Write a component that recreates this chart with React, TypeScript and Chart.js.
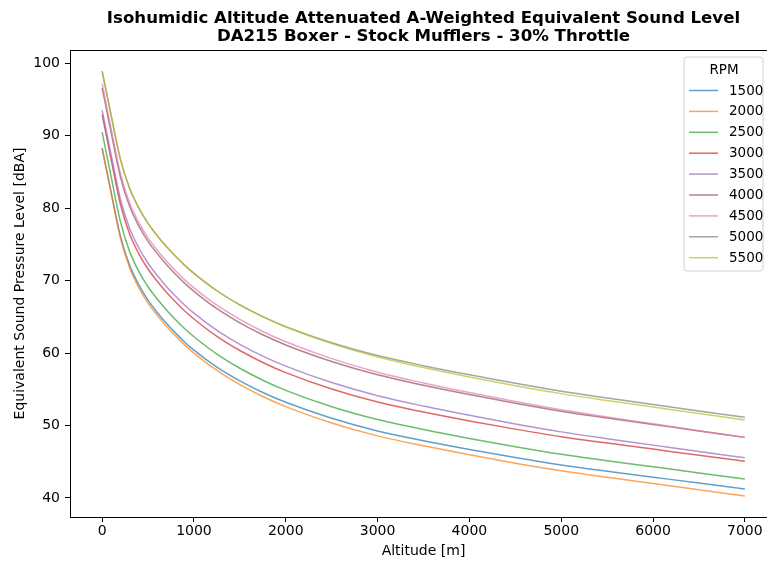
import React, { useEffect, useRef } from "react";
import { Chart, registerables } from "chart.js";

Chart.register(...registerables);

const ALTITUDE = [0, 100, 200, 300, 400, 500, 600, 700, 800, 900, 1000, 1250, 1500, 1750, 2000, 2500, 3000, 3500, 4000, 4500, 5000, 5500, 6000, 6500, 7000];

const SPL_1500 = [88.3, 82.1, 76.1, 72.1, 69.4, 67.3, 65.6, 64.1, 62.75, 61.5, 60.4, 58.05, 56.15, 54.55, 53.2, 51.0, 49.25, 47.9, 46.7, 45.58, 44.56, 43.69, 42.87, 42.05, 41.25];
const SPL_2000 = [88.2, 81.9, 75.8, 71.75, 69.0, 66.9, 65.2, 63.7, 62.35, 61.1, 60.0, 57.6, 55.65, 54.0, 52.6, 50.35, 48.57, 47.2, 45.95, 44.8, 43.75, 42.85, 41.98, 41.12, 40.28];
const SPL_2500 = [90.5, 84.2, 78.1, 74.0, 71.25, 69.15, 67.45, 65.95, 64.6, 63.35, 62.25, 59.85, 57.9, 56.25, 54.85, 52.6, 50.83, 49.45, 48.22, 47.08, 46.03, 45.14, 44.3, 43.45, 42.63];
const SPL_3000 = [92.9, 86.6, 80.5, 76.4, 73.7, 71.6, 69.9, 68.4, 67.05, 65.8, 64.7, 62.3, 60.35, 58.7, 57.3, 55.03, 53.23, 51.85, 50.62, 49.5, 48.46, 47.58, 46.74, 45.9, 45.08];
const SPL_3500 = [93.5, 87.25, 81.2, 77.2, 74.5, 72.4, 70.7, 69.2, 67.85, 66.6, 65.5, 63.13, 61.21, 59.58, 58.2, 55.93, 54.11, 52.68, 51.4, 50.21, 49.12, 48.18, 47.29, 46.4, 45.54];
const SPL_4000 = [96.6, 90.32, 84.25, 80.22, 77.52, 75.42, 73.72, 72.22, 70.87, 69.62, 68.52, 66.12, 64.17, 62.52, 61.12, 58.84, 57.0, 55.56, 54.27, 53.08, 51.98, 51.03, 50.14, 49.24, 48.36];
const SPL_4500 = [97.2, 90.85, 84.75, 80.7, 78.0, 75.9, 74.2, 72.7, 71.35, 70.1, 69.0, 66.6, 64.65, 62.98, 61.56, 59.23, 57.35, 55.87, 54.54, 53.3, 52.17, 51.18, 50.24, 49.29, 48.36];
const SPL_5000 = [98.9, 92.7, 86.7, 82.7, 80.0, 77.9, 76.2, 74.7, 73.35, 72.1, 71.0, 68.6, 66.65, 65.02, 63.65, 61.42, 59.65, 58.26, 57.0, 55.82, 54.74, 53.8, 52.9, 52.01, 51.13];
const SPL_5500 = [98.9, 92.7, 86.7, 82.7, 80.0, 77.9, 76.2, 74.7, 73.35, 72.1, 71.0, 68.6, 66.65, 65.0, 63.6, 61.3, 59.45, 58.0, 56.7, 55.5, 54.4, 53.45, 52.55, 51.65, 50.77];

const RPM_LABELS = ["1500", "2000", "2500", "3000", "3500", "4000", "4500", "5000", "5500"];
const SERIES = [SPL_1500, SPL_2000, SPL_2500, SPL_3000, SPL_3500, SPL_4000, SPL_4500, SPL_5000, SPL_5500];
const COLORS = [
  "rgba(31,119,180,0.7)",
  "rgba(255,127,14,0.7)",
  "rgba(44,160,44,0.7)",
  "rgba(214,39,40,0.7)",
  "rgba(148,103,189,0.7)",
  "rgba(140,86,75,0.7)",
  "rgba(227,119,194,0.7)",
  "rgba(127,127,127,0.7)",
  "rgba(188,189,34,0.7)",
];

const X_TICKS = [0, 1000, 2000, 3000, 4000, 5000, 6000, 7000];
const Y_TICKS = [40, 50, 60, 70, 80, 90, 100];

const TITLE_LINES = [
  "Isohumidic Altitude Attenuated A-Weighted Equivalent Sound Level",
  "DA215 Boxer - Stock Mufflers - 30% Throttle",
];
const X_LABEL = "Altitude [m]";
const Y_LABEL = "Equivalent Sound Pressure Level [dBA]";
const LEGEND_TITLE = "RPM";

const FONT = "'DejaVu Sans', sans-serif";

const framePlugin = {
  id: "frameAndExtras",
  afterDraw(chart: any) {
    const { ctx, chartArea } = chart;
    const { left, top, right, bottom } = chartArea;
    ctx.save();
    ctx.strokeStyle = "#000";
    ctx.lineWidth = 1;
    ctx.strokeRect(left + 0.5, top + 0.5, right - left, bottom - top);

    const cx = (left + right) / 2;
    ctx.fillStyle = "#000";
    ctx.font = `bold 16.6px ${FONT}`;
    ctx.textAlign = "center";
    ctx.textBaseline = "middle";
    ctx.fillText(TITLE_LINES[0], cx, 19);
    ctx.fillText(TITLE_LINES[1], cx, 37);

    const lx = 684, ly = 57, lw = 79, lh = 214;
    const r = 3;
    ctx.beginPath();
    ctx.moveTo(lx + r, ly);
    ctx.lineTo(lx + lw - r, ly);
    ctx.quadraticCurveTo(lx + lw, ly, lx + lw, ly + r);
    ctx.lineTo(lx + lw, ly + lh - r);
    ctx.quadraticCurveTo(lx + lw, ly + lh, lx + lw - r, ly + lh);
    ctx.lineTo(lx + r, ly + lh);
    ctx.quadraticCurveTo(lx, ly + lh, lx, ly + lh - r);
    ctx.lineTo(lx, ly + r);
    ctx.quadraticCurveTo(lx, ly, lx + r, ly);
    ctx.closePath();
    ctx.fillStyle = "rgba(255,255,255,0.8)";
    ctx.fill();
    ctx.strokeStyle = "#d0d0d0";
    ctx.lineWidth = 1;
    ctx.stroke();

    ctx.font = `13.5px ${FONT}`;
    ctx.fillStyle = "#000";
    ctx.textAlign = "center";
    ctx.textBaseline = "middle";
    ctx.fillText(LEGEND_TITLE, 724, 70);
    ctx.textAlign = "left";
    RPM_LABELS.forEach((lab, i) => {
      const y = 90 + i * 20.9;
      ctx.strokeStyle = COLORS[i];
      ctx.lineWidth = 1.5;
      ctx.beginPath();
      ctx.moveTo(689, y + 0.5);
      ctx.lineTo(718, y + 0.5);
      ctx.stroke();
      ctx.fillStyle = "#000";
      ctx.fillText(lab, 729, y + 1);
    });
    ctx.restore();
  },
};

export default function App() {
  const ref = useRef<HTMLCanvasElement | null>(null);

  useEffect(() => {
    if (!ref.current) return;
    const datasets = SERIES.map((vals, i) => ({
      label: RPM_LABELS[i],
      data: ALTITUDE.map((x, j) => ({ x, y: vals[j] })),
      borderColor: COLORS[i],
      backgroundColor: COLORS[i],
      borderWidth: 1.5,
      pointRadius: 0,
      fill: false,
      cubicInterpolationMode: "monotone" as const,
      order: SERIES.length - 1 - i,
    }));

    const chart = new Chart(ref.current, {
      type: "line",
      data: { datasets },
      options: {
        animation: false,
        responsive: false,
        devicePixelRatio: 1,
        layout: { padding: { top: 50, right: 13, left: 0, bottom: 0 } },
        plugins: {
          legend: { display: false },
          title: { display: false },
          tooltip: { enabled: false },
        },
        scales: {
          x: {
            type: "linear",
            min: -350,
            max: 7350,
            afterBuildTicks: (scale: any) => {
              scale.ticks = X_TICKS.map((v) => ({ value: v }));
            },
            afterFit: (scale: any) => {
              scale.height = 44;
            },
            grid: {
              drawOnChartArea: false,
              drawTicks: true,
              tickLength: 5,
              color: "#000",
            },
            border: { display: true, color: "#000", width: 1 },
            ticks: {
              color: "#000",
              font: { family: FONT, size: 14 },
              padding: 1,
              maxRotation: 0,
              autoSkip: false,
              callback: (v: any) => String(v),
            },
            title: {
              display: true,
              text: X_LABEL,
              color: "#000",
              font: { family: FONT, size: 14 },
              padding: { top: 0, bottom: 1.6 },
            },
          },
          y: {
            type: "linear",
            min: 37.37,
            max: 101.83,
            afterBuildTicks: (scale: any) => {
              scale.ticks = Y_TICKS.map((v) => ({ value: v }));
            },
            afterFit: (scale: any) => {
              scale.width = 70;
            },
            grid: {
              drawOnChartArea: false,
              drawTicks: true,
              tickLength: 5,
              color: "#000",
            },
            border: { display: true, color: "#000", width: 1 },
            ticks: {
              color: "#000",
              font: { family: FONT, size: 14 },
              padding: 5,
              autoSkip: false,
              callback: (v: any) => String(v),
            },
            title: {
              display: true,
              text: Y_LABEL,
              color: "#000",
              font: { family: FONT, size: 14 },
              padding: { top: 11.6, bottom: 0 },
            },
          },
        },
      },
      plugins: [framePlugin],
    });
    return () => chart.destroy();
  }, []);

  return (
    <div
      style={{
        position: "fixed",
        left: 0,
        top: 0,
        width: 767,
        height: 561,
        overflow: "hidden",
        background: "#fff",
      }}
    >
      <canvas ref={ref} width={790} height={561} style={{ width: 790, height: 561, display: "block" }} />
    </div>
  );
}
